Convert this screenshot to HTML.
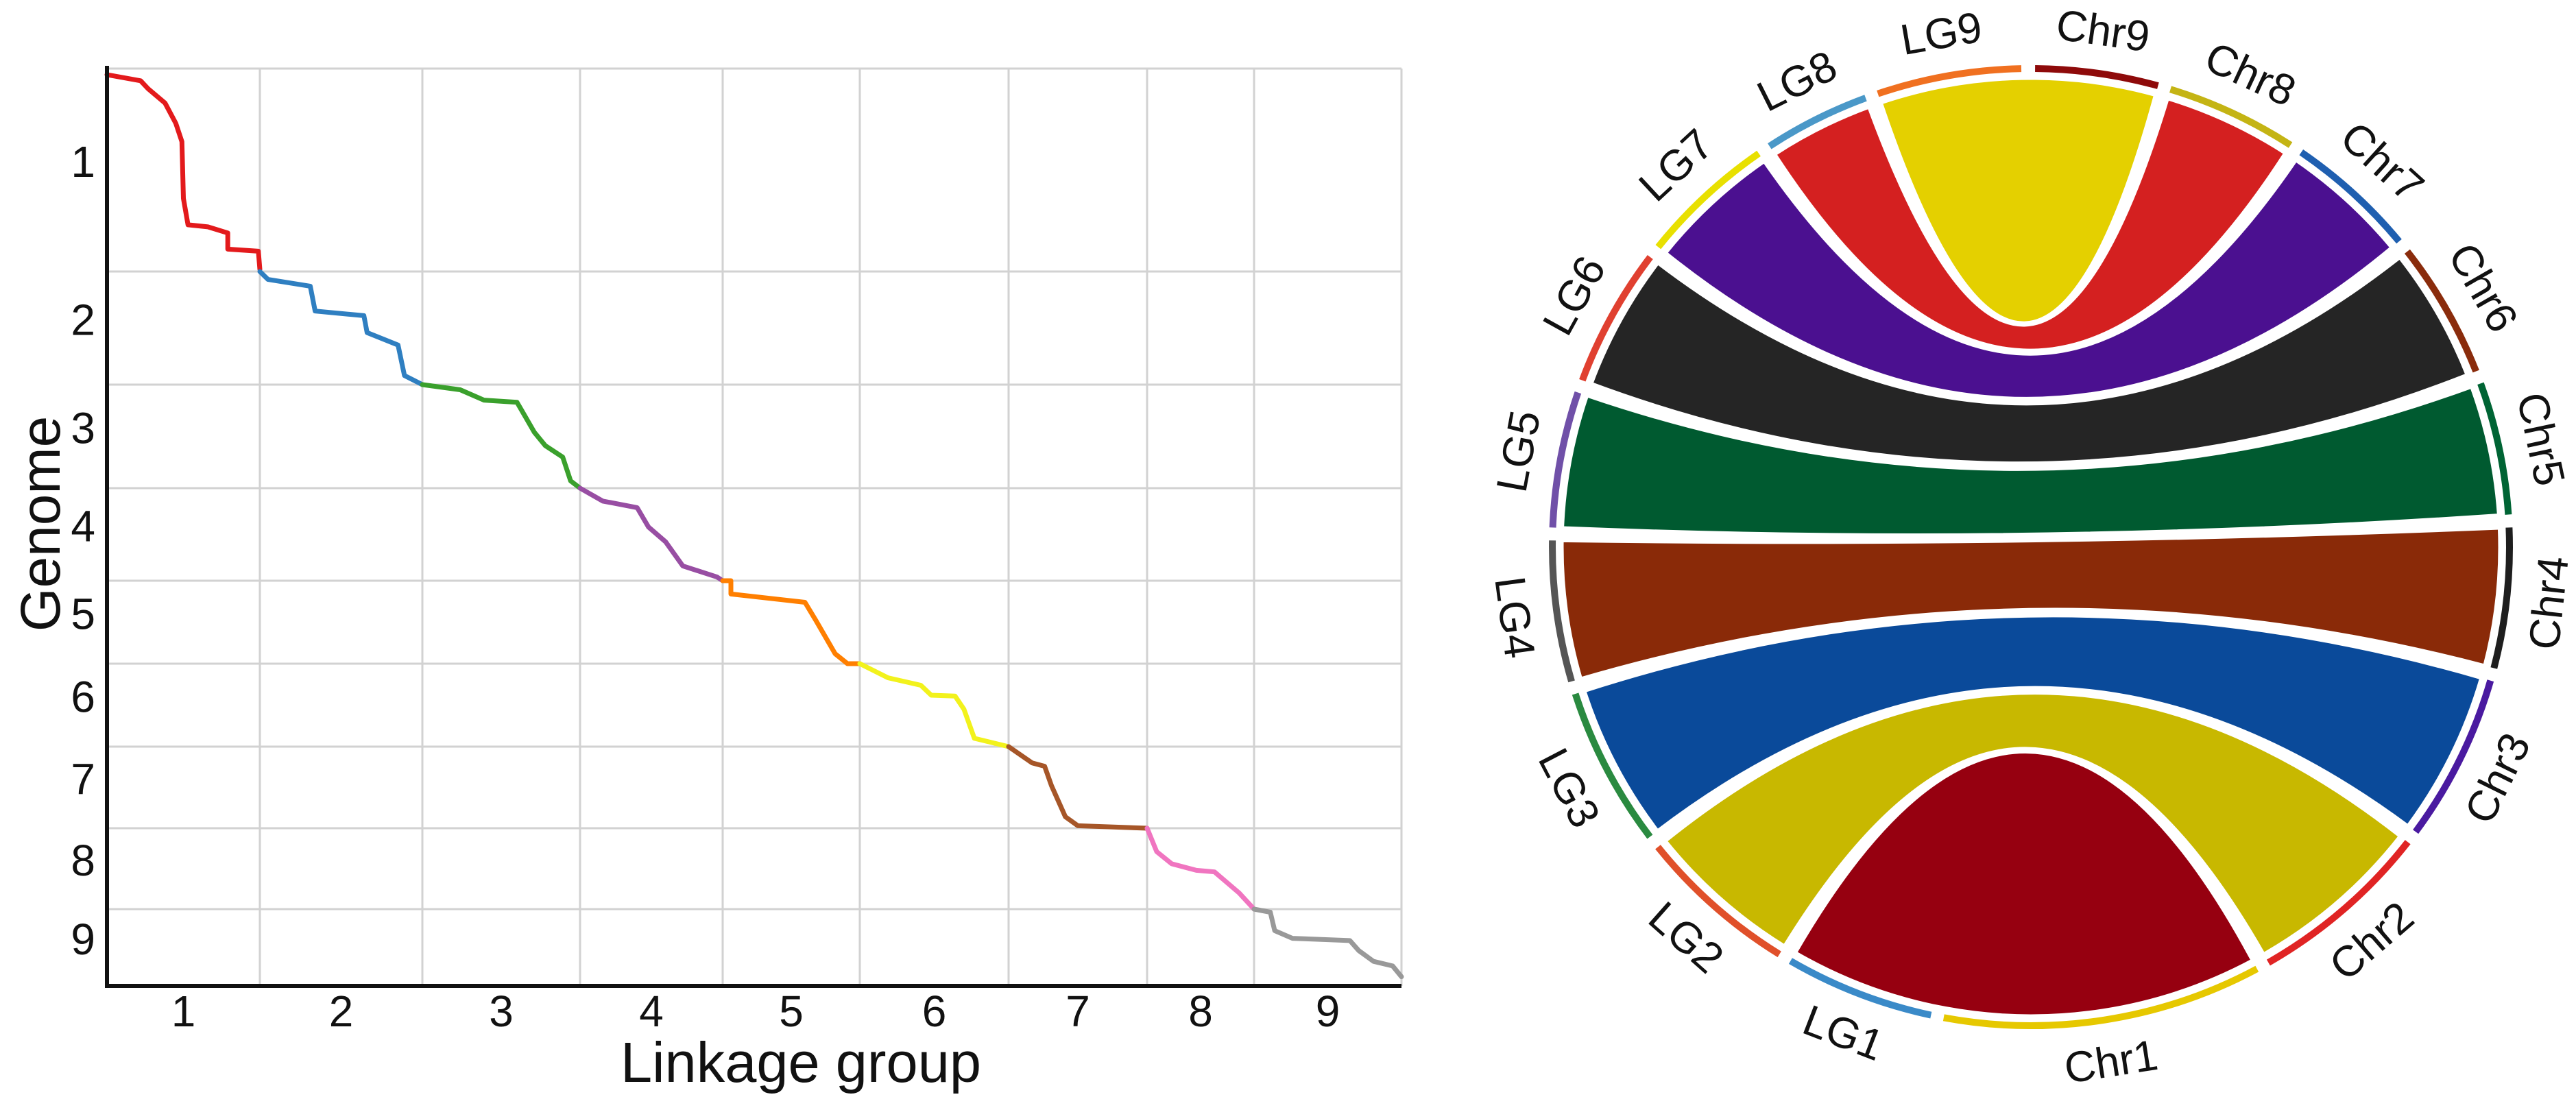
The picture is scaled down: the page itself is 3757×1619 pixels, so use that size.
<!DOCTYPE html>
<html><head><meta charset="utf-8"><style>
html,body{margin:0;padding:0;background:#fff;}
svg{display:block;font-family:"Liberation Sans",Arial,sans-serif;}
</style></head><body>
<svg id="fig" width="3757" height="1619" viewBox="0 0 3757 1619" xmlns="http://www.w3.org/2000/svg">
<rect x="0" y="0" width="3757" height="1619" fill="#fff"/>
<g id="dot"></g>
<g id="circ"></g>
</svg>
<script>
// ---------- dot plot data ----------
const lgLabels = ["1","2","3","4","5","6","7","8","9"];
const chrLabels = ["1","2","3","4","5","6","7","8","9"];
const lgLength = [223,237,230,208,200,217,202,156,215];
const chrLength = [296,165,151,135,121,121,119,118,112];
const lineColors = ["#e31a1c","#2f7fc1","#3aa02c","#984ea3","#ff7f00","#f2f21c","#a65628","#f075c0","#999999"];
const seg1x=[0,0.22,0.27,0.38,0.45,0.49,0.5,0.53,0.66,0.79,0.79,0.99,1];
const seg1y=[0.03,0.06,0.1,0.17,0.27,0.36,0.64,0.77,0.78,0.81,0.89,0.9,0.99];
const seg2x=[0,0.05,0.31,0.34,0.64,0.66,0.85,0.89,1];
const seg2y=[0,0.07,0.13,0.35,0.39,0.54,0.65,0.92,1];
const seg3x=[0,0.24,0.39,0.6,0.71,0.78,0.89,0.94,1];
const seg3y=[0,0.05,0.15,0.17,0.46,0.59,0.7,0.93,1];
const seg4x=[0,0.16,0.4,0.48,0.6,0.72,0.96,1];
const seg4y=[0,0.14,0.21,0.42,0.58,0.84,0.96,1];
const seg5x=[0,0.06,0.06,0.6,0.68,0.82,0.91,1];
const seg5y=[0,0,0.16,0.26,0.48,0.88,1,1];
const seg6x=[0,0.19,0.41,0.48,0.64,0.7,0.77,1];
const seg6y=[0,0.17,0.26,0.38,0.39,0.55,0.9,1];
const seg7x=[0,0.17,0.26,0.31,0.41,0.5,1];
const seg7y=[0,0.2,0.24,0.48,0.86,0.97,1];
const seg8x=[0,0.09,0.23,0.46,0.63,0.86,1];
const seg8y=[0,0.29,0.44,0.52,0.54,0.8,1];
const seg9x=[0,0.11,0.14,0.26,0.65,0.71,0.81,0.94,1];
const seg9y=[0,0.04,0.28,0.38,0.41,0.54,0.68,0.74,0.88];
const segX=[seg1x,seg2x,seg3x,seg4x,seg5x,seg6x,seg7x,seg8x,seg9x];
const segY=[seg1y,seg2y,seg3y,seg4y,seg5y,seg6y,seg7y,seg8y,seg9y];

// ---------- circos data ----------
const chrArc = [38.7,22.2,20.3,17.0,16.1,16.6,15.9,15.9,14.9]; // Chr1..Chr9 (degrees)
const lgArc  = [18.1,19.5,19.4,17.1,16.5,16.9,16.5,12.9,17.5]; // LG1..LG9
const chrStrip = ["#e6c800","#e02424","#4a1aa0","#1e1e1e","#006434","#8a2c0c","#1f5fb0","#c4b414","#8e0a0a"];
const lgStrip  = ["#3a8ac8","#e0502a","#2a8a40","#555555","#7050a8","#e04030","#e8e000","#4a98c8","#f07020"];
const ribbonColor = ["#960010","#c8b800","#0a4a9a","#8a2a08","#005a30","#252525","#4b1090","#d42020","#e4d000"];

const NS="http://www.w3.org/2000/svg";
function mk(tag, attrs, parent){const e=document.createElementNS(NS,tag);for(const k in attrs)e.setAttribute(k,attrs[k]);parent.appendChild(e);return e;}

// ---------- dot plot ----------
(function(){
const g=document.getElementById('dot');
const X0=156,X1=2044,Y0=100,Y1=1438;
const lgTot=lgLength.reduce((a,b)=>a+b,0), chrTot=chrLength.reduce((a,b)=>a+b,0);
const lgCum=[0];lgLength.forEach(v=>lgCum.push(lgCum[lgCum.length-1]+v));
const chrCum=[0];chrLength.forEach(v=>chrCum.push(chrCum[chrCum.length-1]+v));
const xs=v=>X0+v/lgTot*(X1-X0);
const ys=v=>Y0+v/chrTot*(Y1-Y0);
for(let i=1;i<=9;i++){
 const x=xs(lgCum[i]);
 const l=mk('line',{x1:x,y1:Y0,x2:x,y2:Y1,stroke:'#d2d2d2','stroke-width':3},g);
 
 
}
for(let i=0;i<9;i++){
 const y=ys(chrCum[i]);
 const l=mk('line',{x1:X0,y1:y,x2:X1,y2:y,stroke:'#d2d2d2','stroke-width':3},g);
 
 
}
for(let i=0;i<9;i++){
 const px=segX[i], py=segY[i];
 let d='';
 for(let j=0;j<px.length;j++){
  const x=xs(lgCum[i]+px[j]*lgLength[i]), y=ys(chrCum[i]+py[j]*chrLength[i]);
  d+=(j?'L':'M')+x.toFixed(1)+' '+y.toFixed(1);
 }
 const p=mk('path',{d:d,fill:'none',stroke:lineColors[i],'stroke-width':7,'stroke-linejoin':'round','stroke-linecap':'round'},g);
 
 
}
const ax=mk('path',{d:`M${X0} ${Y0-4}L${X0} ${Y1}L${X1} ${Y1}`,fill:'none',stroke:'#111','stroke-width':6},g);


for(let i=0;i<9;i++){
 const t=mk('text',{x:(xs(lgCum[i])+xs(lgCum[i+1]))/2,y:1497,'font-size':64,'text-anchor':'middle',fill:'#111'},g);
 t.textContent=lgLabels[i];
 
 
 const u=mk('text',{x:139,y:(ys(chrCum[i])+ys(chrCum[i+1]))/2+10,'font-size':64,'text-anchor':'end',fill:'#111'},g);
 u.textContent=chrLabels[i];
 
 
}
const xt=mk('text',{x:1168,y:1578,'font-size':83,'text-anchor':'middle',fill:'#111'},g);
xt.textContent='Linkage group';


const yt=mk('text',{x:0,y:0,'font-size':82,'text-anchor':'middle',fill:'#111',transform:'translate(87,764) rotate(-90)'},g);
yt.textContent='Genome';


})();

// ---------- circos ----------
(function(){
const g=document.getElementById('circ');
const cx=2962, cy=798, Rs=698, Rr=684, Rl=760, gap=1.55;
const P=(a,r)=>[cx+r*Math.sin(a*Math.PI/180), cy-r*Math.cos(a*Math.PI/180)];
const segs=[];
let a=0.5;
for(let i=8;i>=0;i--){segs.push({name:'Chr'+(i+1),k:'chr',i:i,a1:a,a2:a+chrArc[i]});a+=chrArc[i]+gap;}
for(let i=0;i<9;i++){segs.push({name:'LG'+(i+1),k:'lg',i:i,a1:a,a2:a+lgArc[i]});a+=lgArc[i]+gap;}
const find=(k,i)=>segs.find(s=>s.k===k&&s.i===i);
const f=v=>v.toFixed(1);
const adiff=(x,y)=>{let d=Math.abs(x-y)%360;return d>180?360-d:d;};
for(let i=0;i<9;i++){
 const L=find('lg',i), C=find('chr',i);
 const p1=P(L.a1,Rr),p2=P(L.a2,Rr),p3=P(C.a1,Rr),p4=P(C.a2,Rr);
 const e1 = adiff(L.a2,C.a1)<10 ? `L${f(p3[0])} ${f(p3[1])}` : `Q${cx} ${cy} ${f(p3[0])} ${f(p3[1])}`;
 const e2 = adiff(C.a2,L.a1)<10 ? `L${f(p1[0])} ${f(p1[1])}` : `Q${cx} ${cy} ${f(p1[0])} ${f(p1[1])}`;
 const d=`M${f(p1[0])} ${f(p1[1])}A${Rr} ${Rr} 0 0 1 ${f(p2[0])} ${f(p2[1])}${e1}A${Rr} ${Rr} 0 0 1 ${f(p4[0])} ${f(p4[1])}${e2}Z`;
 const r=mk('path',{d:d,fill:ribbonColor[i],stroke:'#fff','stroke-width':5,'stroke-linejoin':'round'},g);
 
 
}
segs.forEach(s=>{
 const p1=P(s.a1,Rs),p2=P(s.a2,Rs);
 const col=s.k==='chr'?chrStrip[s.i]:lgStrip[s.i];
 const st=mk('path',{d:`M${f(p1[0])} ${f(p1[1])}A${Rs} ${Rs} 0 0 1 ${f(p2[0])} ${f(p2[1])}`,fill:'none',stroke:col,'stroke-width':10},g);
 
 
 const m=(s.a1+s.a2)/2;
 const pl=P(m,Rl);
 let rot = (m>90&&m<270)? m-180 : (m>=270? m-360 : m);
 const t=mk('text',{x:0,y:0,'font-size':63,'text-anchor':'middle','dominant-baseline':'central',fill:'#111',transform:`translate(${f(pl[0])},${f(pl[1])}) rotate(${f(rot)})`},g);
 t.textContent=s.name;
 
 
});
})();
</script>
</body></html>
